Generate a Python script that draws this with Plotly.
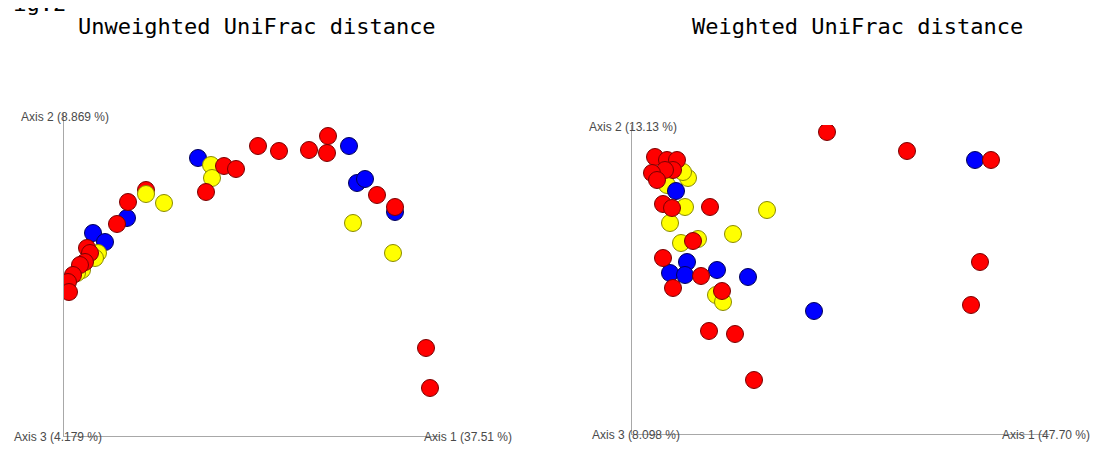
import plotly.graph_objects as go

# page body has an 8px margin; figure sized so it fills the 1099x450 window
OFF = 8
W, H = 1099 - OFF, 450 - OFF

# ---------------- Data (PCoA scores, arbitrary units, origin at axis corner) -------------
# Unweighted UniFrac
uw_red_x = [0.970, 1.075, 1.225, 1.320, 1.315, 0.800, 0.860, 0.710, 1.565, 1.655, 0.320, 0.265,
            0.115, 0.130, 0.105, 0.080, 0.045, 0.020, 0.025, 1.810, 1.830]
uw_red_y = [1.450, 1.425, 1.430, 1.500, 1.415, 1.350, 1.335, 1.220, 1.205, 1.145, 1.170, 1.060,
            0.940, 0.915, 0.870, 0.855, 0.805, 0.770, 0.720, 0.440, 0.240]
uw_red_back_x = [0.410]
uw_red_back_y = [1.230]
uw_blue_x = [0.670, 1.425, 1.465, 1.505, 1.655, 0.315, 0.145, 0.205]
uw_blue_y = [1.390, 1.450, 1.265, 1.285, 1.120, 1.090, 1.015, 0.970]
uw_yellow_x = [0.735, 0.740, 0.410, 0.500, 1.445, 1.645, 0.170, 0.090, 0.065, 0.155]
uw_yellow_y = [1.355, 1.290, 1.210, 1.165, 1.065, 0.915, 0.915, 0.830, 0.815, 0.890]

# Weighted UniFrac
w_red_x = [0.115, 0.175, 0.225, 0.205, 0.165, 0.100, 0.125, 0.155, 0.200, 0.390, 0.305, 0.155,
           0.345, 0.205, 0.450, 0.385, 0.515, 0.610, 0.975, 1.375, 1.795, 1.740, 1.695]
w_red_y = [1.385, 1.370, 1.370, 1.320, 1.320, 1.305, 1.270, 1.150, 1.130, 1.135, 0.965, 0.880,
           0.790, 0.730, 0.715, 0.515, 0.500, 0.270, 1.510, 1.415, 1.370, 0.860, 0.645]
w_blue_x = [0.220, 0.275, 0.190, 0.265, 0.425, 0.580, 0.910, 1.715]
w_blue_y = [1.215, 0.860, 0.805, 0.795, 0.820, 0.785, 0.615, 1.370]
w_yellow_x = [0.280, 0.255, 0.175, 0.265, 0.675, 0.190, 0.505, 0.245, 0.330, 0.420, 0.455]
w_yellow_y = [1.280, 1.310, 1.245, 1.135, 1.120, 1.055, 1.000, 0.955, 0.975, 0.695, 0.660]

titles = ["Unweighted UniFrac distance", "Weighted UniFrac distance"]
uw_axis_labels = ["Axis 1 (37.51 %)", "Axis 2 (8.869 %)", "Axis 3 (4.179 %)"]
w_axis_labels = ["Axis 1 (47.70 %)", "Axis 2 (13.13 %)", "Axis 3 (8.098 %)"]

# ---------------- Styling -------------
RED, RED_L = "#ff0000", "#7a0000"
BLUE, BLUE_L = "#0000ff", "#00005a"
YEL, YEL_L = "#ffff00", "#8a8a00"
MS = 17


def fx(px):
    """screen x pixel -> paper fraction"""
    return (px - OFF) / W


def fy(py):
    """screen y pixel -> paper fraction"""
    return 1 - (py - OFF) / H


def mk(x, y, c, lc, xa, ya):
    return go.Scatter(x=x, y=y, mode="markers", xaxis=xa, yaxis=ya, showlegend=False,
                      hoverinfo="skip",
                      marker=dict(size=MS, color=c, line=dict(color=lc, width=1)))


fig = go.Figure()
# left panel
fig.add_trace(mk(uw_red_back_x, uw_red_back_y, RED, RED_L, "x", "y"))
fig.add_trace(mk(uw_blue_x, uw_blue_y, BLUE, BLUE_L, "x", "y"))
fig.add_trace(mk(uw_yellow_x, uw_yellow_y, YEL, YEL_L, "x", "y"))
fig.add_trace(mk(uw_red_x, uw_red_y, RED, RED_L, "x", "y"))
# right panel
fig.add_trace(mk(w_yellow_x, w_yellow_y, YEL, YEL_L, "x2", "y2"))
fig.add_trace(mk(w_blue_x, w_blue_y, BLUE, BLUE_L, "x2", "y2"))
fig.add_trace(mk(w_red_x, w_red_y, RED, RED_L, "x2", "y2"))

ax_common = dict(showgrid=False, zeroline=False, showticklabels=False, ticks="",
                 showline=True, linecolor="#a8a8a8", linewidth=1, mirror=False,
                 fixedrange=True)

# left panel: corner at (64,436), x to 440, y up to 113 ; 200 px per unit
fig.update_layout(
    xaxis=dict(domain=[fx(64), fx(440)], range=[0, (440 - 64) / 200], anchor="y", **ax_common),
    yaxis=dict(domain=[fy(436), fy(113)], range=[0, (436 - 113) / 200], anchor="x", **ax_common),
    xaxis2=dict(domain=[fx(632), fx(1050)], range=[0, (1050 - 632) / 200], anchor="y2", **ax_common),
    yaxis2=dict(domain=[fy(434), fy(125)], range=[0, (434 - 125) / 200], anchor="x2", **ax_common),
)

lab_font = dict(family="Liberation Sans, Arial, sans-serif", size=12, color="#4a4a4a")
title_font = dict(family="DejaVu Sans Mono, monospace", size=22, color="#000000")

ann = []
# titles
ann.append(dict(text=titles[0], x=fx(257), y=fy(27), xanchor="center", yanchor="middle",
                font=title_font))
ann.append(dict(text=titles[1], x=fx(857), y=fy(27), xanchor="center", yanchor="middle",
                font=title_font))
# figure label, cut off by the top edge as in the reference
ann.append(dict(text="Fig.2", x=fx(-2), y=fy(18), xanchor="left", yanchor="bottom",
                font=title_font))
# axis labels left
ann.append(dict(text=uw_axis_labels[1], x=fx(19), y=fy(117), xanchor="left", yanchor="middle", font=lab_font))
ann.append(dict(text=uw_axis_labels[2], x=fx(12), y=fy(437), xanchor="left", yanchor="middle", font=lab_font))
ann.append(dict(text=uw_axis_labels[0], x=fx(422), y=fy(437), xanchor="left", yanchor="middle", font=lab_font))
# axis labels right
ann.append(dict(text=w_axis_labels[1], x=fx(587), y=fy(127), xanchor="left", yanchor="middle", font=lab_font))
ann.append(dict(text=w_axis_labels[2], x=fx(590), y=fy(435), xanchor="left", yanchor="middle", font=lab_font))
ann.append(dict(text=w_axis_labels[0], x=fx(1000), y=fy(435), xanchor="left", yanchor="middle", font=lab_font))

for a in ann:
    a.update(xref="paper", yref="paper", showarrow=False)

fig.update_layout(
    width=W, height=H,
    margin=dict(l=0, r=0, t=0, b=0),
    paper_bgcolor="white", plot_bgcolor="white",
    annotations=ann,
    showlegend=False,
)

fig.write_html("out.html")
